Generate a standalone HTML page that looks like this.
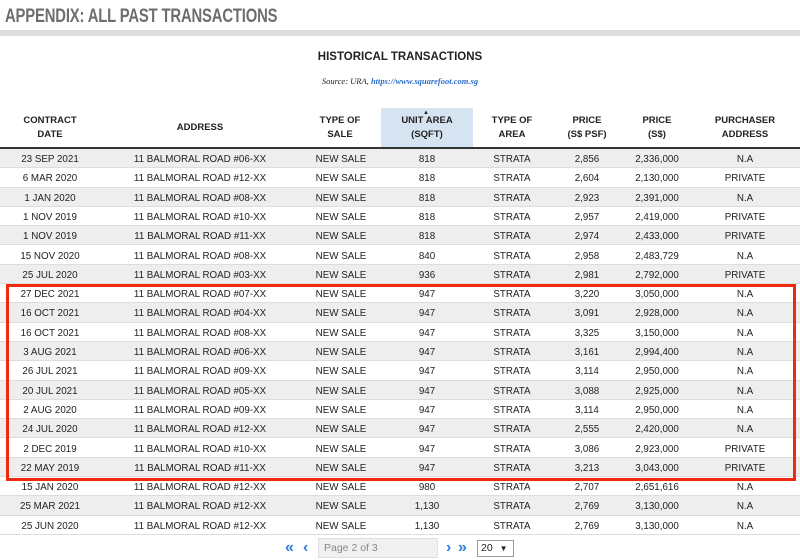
<!DOCTYPE html>
<html><head><style>
body{margin:0;width:800px;height:560px;background:#fff;font-family:"Liberation Sans",Arial,sans-serif;position:relative;overflow:hidden;color:#222}
.t{position:absolute;left:5px;top:6px;font-size:19px;font-weight:bold;color:#6e6e6e;transform:scaleX(0.78);transform-origin:left;letter-spacing:-0.2px;white-space:nowrap}
.bar{position:absolute;left:0;top:30px;width:800px;height:6px;background:#ddd}
.h2{position:absolute;left:0;width:800px;top:51px;text-align:center;font-size:11.5px;font-weight:bold}
.src{position:absolute;left:0;width:800px;top:76px;text-align:center;font-family:"Liberation Serif",serif;font-style:italic;font-size:8.5px}
.src b{color:#2d6ec8}
.hl{position:absolute;left:381px;top:108px;width:92px;height:40px;background:#d6e4f2}
.hd{position:absolute;top:114px;font-size:9.5px;font-weight:bold;text-align:center;line-height:14px}
.hline{position:absolute;left:0;top:147px;width:800px;height:2px;background:#333}
.r{position:absolute;left:0;width:800px;height:19.3px;font-size:9.8px;line-height:21px;border-bottom:1px solid #ddd;box-sizing:border-box}
.r.g{background:#eee}
.r span{position:absolute;text-align:center;width:140px;margin-left:-70px}
.box{position:absolute;left:6px;top:284px;width:784px;height:191px;border:3px solid #f02a10}
.pg{position:absolute;top:538px;font-size:11px}
</style></head><body>
<div class="t">APPENDIX: ALL PAST TRANSACTIONS</div>
<div class="bar"></div>
<div class="h2">HISTORICAL TRANSACTIONS</div>
<div class="src">Source: URA, <b>https://www.squarefoot.com.sg</b></div>
<div class="hl"></div>
<div class="hd" style="left:0;width:100px">CONTRACT<br>DATE</div>
<div class="hd" style="left:130px;width:140px;top:121px">ADDRESS</div>
<div class="hd" style="left:290px;width:100px">TYPE OF<br>SALE</div>
<div class="hd" style="left:377px;width:100px"><span style="position:absolute;left:46px;top:-8px;font-size:6px">▲</span>UNIT AREA<br>(SQFT)</div>
<div class="hd" style="left:462px;width:100px">TYPE OF<br>AREA</div>
<div class="hd" style="left:537px;width:100px">PRICE<br>(S$ PSF)</div>
<div class="hd" style="left:607px;width:100px">PRICE<br>(S$)</div>
<div class="hd" style="left:695px;width:100px">PURCHASER<br>ADDRESS</div>
<div class="hline"></div>
<div id="rows"></div>
<div class="box"></div>
<div class="pg" style="left:285px;top:539px;color:#2d7fd8;font-size:16px;font-weight:bold">«</div>
<div class="pg" style="left:303px;top:539px;color:#2d7fd8;font-size:16px;font-weight:bold">‹</div>
<div style="position:absolute;left:318px;top:538px;width:120px;height:20px;background:#f0f0f0;border:1px solid #e0e0e0;box-sizing:border-box;font-size:10.5px;color:#888;line-height:19px;padding-left:5px">Page 2 of 3</div>
<div class="pg" style="left:446px;top:539px;color:#2d7fd8;font-size:16px;font-weight:bold">›</div>
<div class="pg" style="left:458px;top:539px;color:#2d7fd8;font-size:16px;font-weight:bold">»</div>
<div style="position:absolute;left:477px;top:540px;width:37px;height:17px;border:1px solid #999;box-sizing:border-box;font-size:10.5px;line-height:15px;padding-left:3px">20 <span style="font-size:8px;margin-left:4px">▼</span></div>
<script>
var d=[["23 SEP 2021","06","818","2,856","2,336,000","N.A"],["6 MAR 2020","12","818","2,604","2,130,000","PRIVATE"],["1 JAN 2020","08","818","2,923","2,391,000","N.A"],["1 NOV 2019","10","818","2,957","2,419,000","PRIVATE"],["1 NOV 2019","11","818","2,974","2,433,000","PRIVATE"],["15 NOV 2020","08","840","2,958","2,483,729","N.A"],["25 JUL 2020","03","936","2,981","2,792,000","PRIVATE"],["27 DEC 2021","07","947","3,220","3,050,000","N.A"],["16 OCT 2021","04","947","3,091","2,928,000","N.A"],["16 OCT 2021","08","947","3,325","3,150,000","N.A"],["3 AUG 2021","06","947","3,161","2,994,400","N.A"],["26 JUL 2021","09","947","3,114","2,950,000","N.A"],["20 JUL 2021","05","947","3,088","2,925,000","N.A"],["2 AUG 2020","09","947","3,114","2,950,000","N.A"],["24 JUL 2020","12","947","2,555","2,420,000","N.A"],["2 DEC 2019","10","947","3,086","2,923,000","PRIVATE"],["22 MAY 2019","11","947","3,213","3,043,000","PRIVATE"],["15 JAN 2020","12","980","2,707","2,651,616","N.A"],["25 MAR 2021","12","1,130","2,769","3,130,000","N.A"],["25 JUN 2020","12","1,130","2,769","3,130,000","N.A"]];
var x=[50,200,341,427,512,587,657,745],h="";
d.forEach(function(r,i){var v=[r[0],"11 BALMORAL ROAD #"+r[1]+"-XX","NEW SALE",r[2],"STRATA",r[3],r[4],r[5]];
h+='<div class="r'+(i%2?'':' g')+'" style="top:'+(149+i*19.3)+'px">';
v.forEach(function(t,j){h+='<span style="left:'+x[j]+'px">'+t+'</span>'});h+='</div>'});
document.getElementById('rows').innerHTML=h;
</script>
</body></html>
